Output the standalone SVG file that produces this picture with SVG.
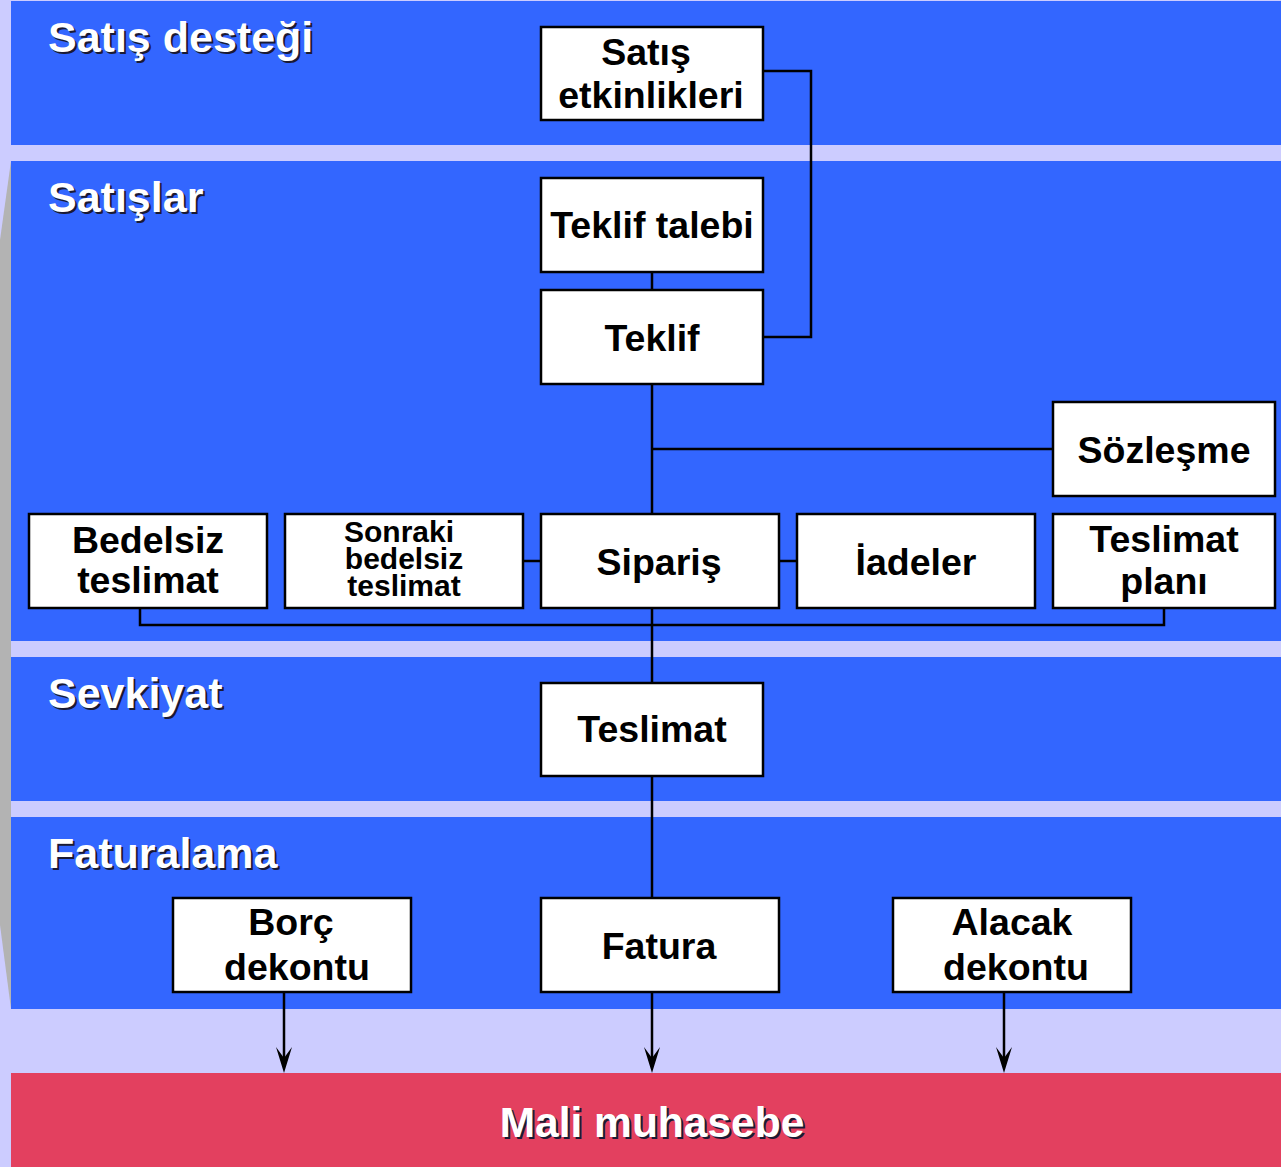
<svg xmlns="http://www.w3.org/2000/svg" width="1281" height="1167" viewBox="0 0 1281 1167">
<defs>
<style>
.band{fill:#3366FF}
.box{fill:#FFFFFF;stroke:#000000;stroke-width:2.5}
.t{font-family:"Liberation Sans",Arial,sans-serif;font-weight:bold;font-size:37.5px;fill:#000000;text-anchor:middle}
.ts{font-family:"Liberation Sans",Arial,sans-serif;font-weight:bold;font-size:30px;fill:#000000;text-anchor:middle}
.title{font-family:"Liberation Sans",Arial,sans-serif;font-weight:bold;font-size:43px;fill:#FFFFFF}
.shadow{font-family:"Liberation Sans",Arial,sans-serif;font-weight:bold;font-size:43px;fill:#1a1a33}
.ln{fill:none;stroke:#000000;stroke-width:2.5}
</style>
</defs>
<rect x="0" y="0" width="1281" height="1167" fill="#CCCCFF"/>
<polygon points="11,161 0,240 0,925 11,1009" fill="#B3B3B3"/>
<g id="lanes">
<rect class="band" x="11" y="1" width="1270" height="144"/>
<rect class="band" x="11" y="161" width="1270" height="480"/>
<rect class="band" x="11" y="657" width="1270" height="144"/>
<rect class="band" x="11" y="817" width="1270" height="192"/>
<rect x="11" y="1073" width="1270" height="94" fill="#E3405F"/>
</g>
<g id="lane-titles">
<text class="shadow" x="50" y="54">Satış desteği</text>
<text class="title" x="48" y="52">Satış desteği</text>
<text class="shadow" x="50" y="214">Satışlar</text>
<text class="title" x="48" y="212">Satışlar</text>
<text class="shadow" x="50" y="710">Sevkiyat</text>
<text class="title" x="48" y="708">Sevkiyat</text>
<text class="shadow" x="50" y="870">Faturalama</text>
<text class="title" x="48" y="868">Faturalama</text>
</g>
<g id="connectors">
<polyline class="ln" points="763,71 811,71 811,337 763,337"/>
<line class="ln" x1="652" y1="272" x2="652" y2="290"/>
<line class="ln" x1="652" y1="384" x2="652" y2="514"/>
<line class="ln" x1="652" y1="449" x2="1053" y2="449"/>
<line class="ln" x1="523" y1="561" x2="541" y2="561"/>
<line class="ln" x1="779" y1="561" x2="797" y2="561"/>
<polyline class="ln" points="140,608 140,625 1164,625 1164,608"/>
<line class="ln" x1="652" y1="608" x2="652" y2="683"/>
<line class="ln" x1="652" y1="776" x2="652" y2="898"/>
<line class="ln" x1="284" y1="992" x2="284" y2="1060"/>
<line class="ln" x1="652" y1="992" x2="652" y2="1060"/>
<line class="ln" x1="1004" y1="992" x2="1004" y2="1060"/>
<path d="M284,1073 L276,1047 L284,1058 L292,1047 Z" fill="#000000"/>
<path d="M652,1073 L644,1047 L652,1058 L660,1047 Z" fill="#000000"/>
<path d="M1004,1073 L996,1047 L1004,1058 L1012,1047 Z" fill="#000000"/>
</g>
<g id="satis-etkinlikleri">
<rect class="box" x="541" y="27" width="222" height="93"/>
<text class="t" x="646" y="65">Satış</text>
<text class="t" x="651" y="108">etkinlikleri</text>
</g>
<g id="teklif-talebi">
<rect class="box" x="541" y="178" width="222" height="94"/>
<text class="t" x="652" y="238">Teklif talebi</text>
</g>
<g id="teklif">
<rect class="box" x="541" y="290" width="222" height="94"/>
<text class="t" x="652" y="351">Teklif</text>
</g>
<g id="sozlesme">
<rect class="box" x="1053" y="402" width="222" height="94"/>
<text class="t" x="1164" y="463">Sözleşme</text>
</g>
<g id="bedelsiz-teslimat">
<rect class="box" x="29" y="514" width="238" height="94"/>
<text class="t" x="148" y="553">Bedelsiz</text>
<text class="t" x="148" y="593">teslimat</text>
</g>
<g id="sonraki-bedelsiz-teslimat">
<rect class="box" x="285" y="514" width="238" height="94"/>
<text class="ts" x="399" y="542">Sonraki</text>
<text class="ts" x="404" y="569">bedelsiz</text>
<text class="ts" x="404" y="596">teslimat</text>
</g>
<g id="siparis">
<rect class="box" x="541" y="514" width="238" height="94"/>
<text class="t" x="659" y="575">Sipariş</text>
</g>
<g id="iadeler">
<rect class="box" x="797" y="514" width="238" height="94"/>
<text class="t" x="916" y="575">İadeler</text>
</g>
<g id="teslimat-plani">
<rect class="box" x="1053" y="514" width="222" height="94"/>
<text class="t" x="1164" y="552">Teslimat</text>
<text class="t" x="1164" y="594">planı</text>
</g>
<g id="teslimat">
<rect class="box" x="541" y="683" width="222" height="93"/>
<text class="t" x="652" y="742">Teslimat</text>
</g>
<g id="borc-dekontu">
<rect class="box" x="173" y="898" width="238" height="94"/>
<text class="t" x="291" y="935">Borç</text>
<text class="t" x="297" y="980">dekontu</text>
</g>
<g id="fatura">
<rect class="box" x="541" y="898" width="238" height="94"/>
<text class="t" x="659" y="959">Fatura</text>
</g>
<g id="alacak-dekontu">
<rect class="box" x="893" y="898" width="238" height="94"/>
<text class="t" x="1012" y="935">Alacak</text>
<text class="t" x="1016" y="980">dekontu</text>
</g>
<g id="mali-muhasebe">
<text x="654" y="1139" font-family="'Liberation Sans',Arial,sans-serif" font-weight="bold" font-size="42.5" fill="#1a1a33" text-anchor="middle">Mali muhasebe</text>
<text x="652" y="1137" font-family="'Liberation Sans',Arial,sans-serif" font-weight="bold" font-size="42.5" fill="#FFFFFF" text-anchor="middle">Mali muhasebe</text>
</g>
</svg>
